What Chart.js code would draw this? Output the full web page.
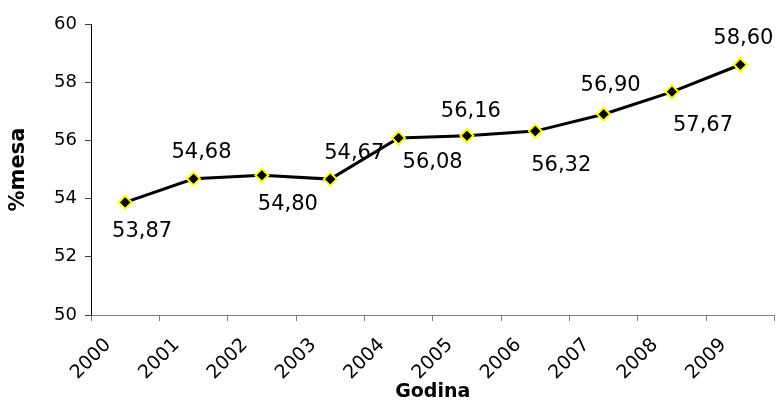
<!DOCTYPE html>
<html>
<head>
<meta charset="utf-8">
<script src="https://cdn.jsdelivr.net/npm/chart.js@4/dist/chart.umd.min.js"></script>
<style>
  html, body { margin: 0; padding: 0; background: #ffffff; }
  #wrap { width: 783px; height: 403px; }
</style>
</head>
<body>
<div id="wrap"><canvas id="chart" width="783" height="403"></canvas></div>
<script>
// Share of mesa by year
const years = ['2000', '2001', '2002', '2003', '2004', '2005', '2006', '2007', '2008', '2009'];
const shares = [53.87, 54.68, 54.80, 54.67, 56.08, 56.16, 56.32, 56.90, 57.67, 58.60];
const yMin = 50;
const yMax = 60;
const yStep = 2;

// Where each value label sits relative to its point (dx, dy to the label centre)
const labelNudges = [
  [17, 27], [8, -28], [26, 27], [24, -28], [34, 22],
  [4, -26], [26, 32], [7, -31], [31, 32], [3, -28]
];

const FONT = "'DejaVu Sans', 'Liberation Sans', Arial, sans-serif";

const valueLabels = {
  id: 'valueLabels',
  afterDatasetsDraw(chart) {
    const meta = chart.getDatasetMeta(0);
    const ctx = chart.ctx;
    const size = 21;
    ctx.save();
    ctx.font = size + 'px ' + FONT;
    ctx.fillStyle = '#000000';
    ctx.textAlign = 'center';
    ctx.textBaseline = 'alphabetic';
    meta.data.forEach((pt, i) => {
      const v = chart.data.datasets[0].data[i];
      const txt = v.toFixed(2).replace('.', ',');
      const [dx, dy] = labelNudges[i];
      ctx.fillText(txt, pt.x + dx, pt.y + dy + size * 0.364);
    });
    ctx.restore();
  }
};

new Chart(document.getElementById('chart'), {
  type: 'line',
  data: {
    labels: years,
    datasets: [{
      data: shares,
      borderColor: '#000000',
      borderWidth: 3,
      tension: 0,
      pointStyle: 'rectRot',
      pointRadius: 6.5,
      pointHoverRadius: 6.5,
      pointBackgroundColor: '#000000',
      pointBorderColor: '#ffff00',
      pointBorderWidth: 2
    }]
  },
  options: {
    responsive: false,
    devicePixelRatio: 1,
    animation: false,
    events: [],
    layout: { padding: { top: 24, right: 2, left: 0, bottom: 0 } },
    plugins: {
      legend: { display: false },
      tooltip: { enabled: false }
    },
    scales: {
      x: {
        type: 'category',
        offset: true,
        grid: {
          offset: true,
          drawOnChartArea: false,
          drawTicks: true,
          tickLength: 6,
          color: '#7f7f7f',
          lineWidth: 1
        },
        border: { display: true, color: '#7f7f7f', width: 1 },
        ticks: {
          autoSkip: false,
          maxRotation: 45,
          minRotation: 45,
          labelOffset: -17,
          padding: 13,
          color: '#000000',
          font: { family: FONT, size: 19 }
        },
        title: {
          display: true,
          text: 'Godina',
          color: '#000000',
          font: { family: FONT, size: 19, weight: 'bold' },
          padding: { top: 0, bottom: 0 }
        },
        afterFit(scale) { scale.height = 88; }
      },
      y: {
        min: yMin,
        max: yMax,
        ticks: {
          stepSize: yStep,
          padding: 8,
          color: '#000000',
          font: { family: FONT, size: 18 }
        },
        grid: {
          drawOnChartArea: false,
          drawTicks: true,
          tickLength: 6,
          color: '#404040',
          lineWidth: 1
        },
        border: { display: true, color: '#000000', width: 1 },
        title: {
          display: true,
          text: '%mesa',
          color: '#000000',
          font: { family: FONT, size: 21, weight: 'bold' },
          padding: { top: 6, bottom: 0 }
        },
        afterFit(scale) { scale.width = 91; }
      }
    }
  },
  plugins: [valueLabels]
});
</script>
</body>
</html>
